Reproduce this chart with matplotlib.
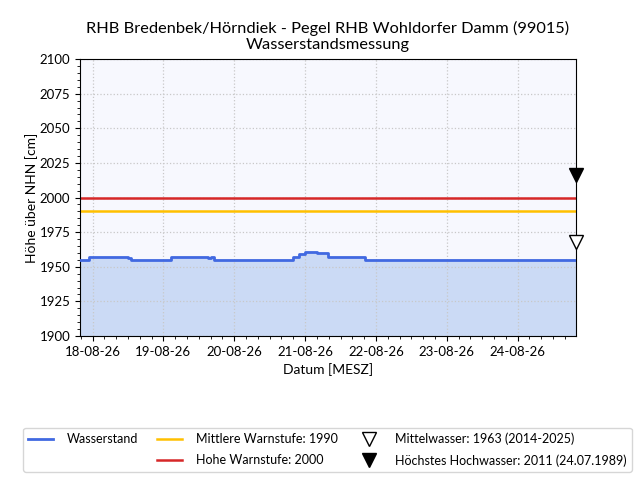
import matplotlib
matplotlib.use('Agg')
import matplotlib.pyplot as plt
import matplotlib.dates as mdates
import matplotlib.transforms as mtransforms
from matplotlib.lines import Line2D
import numpy as np
import pandas as pd

plt.rcParams['font.family'] = ['Lato', 'DejaVu Sans']

# Pegel data (step changes of the water level)
zeit = pd.to_datetime([
    '2026-08-17 19:45', '2026-08-17 22:40', '2026-08-18 12:10', '2026-08-18 13:05',
    '2026-08-19 02:40', '2026-08-19 15:15', '2026-08-19 16:05', '2026-08-19 17:00',
    '2026-08-20 19:50', '2026-08-20 22:05', '2026-08-21 00:00', '2026-08-21 04:00',
    '2026-08-21 07:55', '2026-08-21 20:20', '2026-08-24 19:45'])
wasserstand = [1955, 1957, 1956, 1955,
               1957, 1956, 1957, 1955,
               1957, 1959, 1961, 1960,
               1957, 1955, 1955]

mittlere_warnstufe = 1990
hohe_warnstufe = 2000
mittelwasser = 1963
hoechstes_hw = 2011

fig = plt.figure(figsize=(6.4, 4.8), dpi=100)
ax = fig.add_axes([0.125, 0.3, 0.775, 0.577])
ax.set_facecolor('#f7f8fe')

ax.fill_between(zeit, wasserstand, 1900, step='post', color='#cbdaf5', zorder=1)
ax.plot(zeit, wasserstand, drawstyle='steps-post', color='#4169e1', lw=2, zorder=3,
        label='Wasserstand')
ax.axhline(mittlere_warnstufe, color='#ffc000', lw=1.8, zorder=2,
           label='Mittlere Warnstufe: %d' % mittlere_warnstufe)
ax.axhline(hohe_warnstufe, color='#d62728', lw=1.8, zorder=2,
           label='Hohe Warnstufe: %d' % hohe_warnstufe)

# markers sit with their tip on the value
off = mtransforms.ScaledTranslation(0, 0.07, fig.dpi_scale_trans)
ax.plot([zeit[-1]], [mittelwasser], linestyle='none', marker='v', ms=10,
        mfc='white', mec='black', clip_on=False, zorder=5, transform=ax.transData + off,
        label='Mittelwasser: %d (2014-2025)' % mittelwasser)
ax.plot([zeit[-1]], [hoechstes_hw], linestyle='none', marker='v', ms=10,
        mfc='black', mec='black', clip_on=False, zorder=5, transform=ax.transData + off,
        label='Höchstes Hochwasser: %d (24.07.1989)' % hoechstes_hw)

ax.set_xlim(zeit[0], zeit[-1])
ax.set_ylim(1900, 2100)
ax.set_yticks(np.arange(1900, 2101, 25))
ax.yaxis.set_minor_locator(matplotlib.ticker.MultipleLocator(5))
ax.xaxis.set_major_locator(mdates.DayLocator())
ax.xaxis.set_minor_locator(mdates.HourLocator(byhour=range(0, 24, 4)))
ax.xaxis.set_major_formatter(mdates.DateFormatter('%d-%m-%y'))
ax.tick_params(labelsize=9.5)
ax.grid(True, which='major', color='#c8c8c8', linestyle=':', lw=0.9)

ax.set_xlabel('Datum [MESZ]', fontsize=10)
ax.set_ylabel('Höhe über NHN [cm]', fontsize=10, labelpad=1)
ax.set_title('RHB Bredenbek/Hörndiek - Pegel RHB Wohldorfer Damm (99015)\nWasserstandsmessung',
             fontsize=11.8, linespacing=1.25, pad=7)

# legend: Wasserstand alone in first column
h, l = ax.get_legend_handles_labels()
leer = Line2D([], [], linestyle='none')
handles = [h[0], leer, h[1], h[2], h[3], h[4]]
labels = [l[0], '', l[1], l[2], l[3], l[4]]
fig.legend(handles, labels, loc='lower center', bbox_to_anchor=(0.512, 0.012), ncol=3,
           fontsize=9.0, frameon=True, edgecolor='#cccccc', handlelength=2.0,
           handletextpad=1.1, columnspacing=1.5, labelspacing=0.7, borderaxespad=0.2)

fig.savefig('out.png', dpi=100)
